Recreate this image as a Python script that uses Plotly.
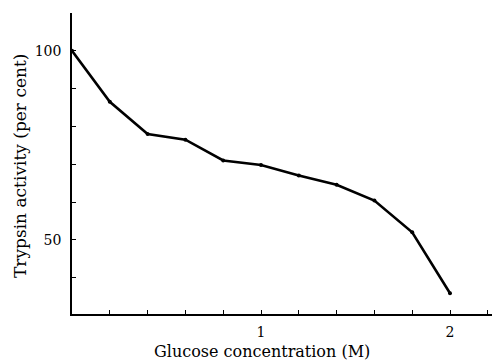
import plotly.graph_objects as go

glucose_m = [0.0, 0.2, 0.4, 0.6, 0.8, 1.0, 1.2, 1.4, 1.6, 1.8, 2.0]
trypsin_activity = [100.0, 86.5, 78.0, 76.5, 71.0, 69.8, 67.0, 64.6, 60.4, 52.0, 35.9]

x_tickvals = [0.2, 0.4, 0.6, 0.8, 1.0, 1.2, 1.4, 1.6, 1.8, 2.0, 2.2]
x_ticktext = ["", "", "", "", "1", "", "", "", "", "2", ""]
y_tickvals = [40, 50, 60, 70, 80, 90, 100]
y_ticktext = ["", "50", "", "", "", "", "100"]

x_title = "Glucose concentration (M)"
y_title = "Trypsin activity (per cent)"

font_family = "DejaVu Serif"

# page body has an 8px margin; compensate so the plot lands where the reference has it
PLOT_L, PLOT_T, PLOT_W, PLOT_H = 64, 5, 436, 301
PX_PER_M = 189.0

fig = go.Figure()
fig.add_trace(go.Scatter(
    x=glucose_m, y=trypsin_activity, mode="lines+markers",
    line=dict(color="black", width=2.6),
    marker=dict(color="black", size=4),
    showlegend=False, hoverinfo="skip",
))

fig.update_layout(
    width=500, height=362,
    margin=dict(l=PLOT_L, r=500 - PLOT_L - PLOT_W, t=PLOT_T, b=362 - PLOT_T - PLOT_H,
                autoexpand=False),
    paper_bgcolor="white", plot_bgcolor="white",
    font=dict(family=font_family, size=14, color="black"),
)
fig.update_xaxes(
    range=[0, PLOT_W / PX_PER_M], showgrid=False, zeroline=False, automargin=False,
    showline=True, linecolor="black", linewidth=1.5,
    tickmode="array", tickvals=x_tickvals, ticktext=x_ticktext,
    ticks="inside", ticklen=4, tickwidth=1.2, tickcolor="black",
    ticklabelstandoff=4,
)
fig.update_yaxes(
    range=[30.4, 110], showgrid=False, zeroline=False, automargin=False,
    showline=True, linecolor="black", linewidth=1.5,
    tickmode="array", tickvals=y_tickvals, ticktext=y_ticktext,
    ticks="inside", ticklen=4, tickwidth=1.2, tickcolor="black",
    ticklabelstandoff=6,
)
fig.add_annotation(
    text=x_title, xref="paper", yref="paper", x=(262 - 72) / PLOT_W, y=-(351 - 314) / 301,
    showarrow=False, xanchor="center", yanchor="middle",
    font=dict(family=font_family, size=16),
)
fig.add_annotation(
    text=y_title, xref="paper", yref="paper", x=-(72 - 20) / PLOT_W, y=(314 - 166) / 301,
    showarrow=False, xanchor="center", yanchor="middle", textangle=-90,
    font=dict(family=font_family, size=17),
)

fig.write_html("out.html")
